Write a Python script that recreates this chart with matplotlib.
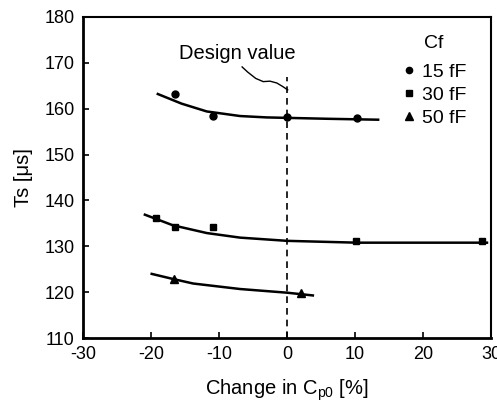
import matplotlib
matplotlib.use("Agg")
import matplotlib.pyplot as plt

plt.rcParams['font.family'] = ['Liberation Sans', 'DejaVu Sans']
plt.rcParams['mathtext.fontset'] = 'custom'
plt.rcParams['mathtext.rm'] = 'Liberation Sans'
plt.rcParams['axes.unicode_minus'] = False

# measured points
x15 = [-16.5, -10.9, 0.0, 10.3]
y15 = [163.2, 158.4, 158.2, 158.0]
x30 = [-19.3, -16.5, -10.9, 10.1, 28.7]
y30 = [136.2, 134.3, 134.3, 131.2, 131.2]
x50 = [-16.6, 2.1]
y50 = [122.9, 119.9]

# fitted curves
cx15 = [-19.0, -15.5, -11.8, -6.9, -3.0, 0.0, 6.0, 13.4]
cy15 = [163.2, 161.1, 159.4, 158.4, 158.1, 158.0, 157.8, 157.6]
cx30 = [-20.9, -16.8, -11.8, -6.9, 0.0, 10.3, 20.0, 29.4]
cy30 = [136.9, 134.6, 132.9, 131.9, 131.2, 130.8, 130.8, 130.8]
cx50 = [-19.9, -16.8, -13.8, -6.9, 0.0, 3.8]
cy50 = [124.0, 122.9, 121.9, 120.7, 119.9, 119.3]

# leader line for "Design value"
lx = [-6.6, -5.8, -4.6, -3.5, -2.5, -1.5, -0.6, 0.1]
ly = [169.1, 168.0, 166.6, 165.9, 166.0, 165.6, 164.8, 164.1]

xticks = [-30, -20, -10, 0, 10, 20, 30]
yticks = [110, 120, 130, 140, 150, 160, 170, 180]

fig = plt.figure(figsize=(4.97, 4.03), dpi=100)
ax = fig.add_axes([0.167, 0.161, 0.821, 0.797])

ax.plot(cx15, cy15, color='black', lw=1.8)
ax.plot(cx30, cy30, color='black', lw=1.8)
ax.plot(cx50, cy50, color='black', lw=1.8)
ax.plot(x15, y15, 'o', color='black', ms=5, label='15 fF')
ax.plot(x30, y30, 's', color='black', ms=5, label='30 fF')
ax.plot(x50, y50, '^', color='black', ms=6, label='50 fF')

ax.plot([0, 0], [110, 167], color='black', lw=1.2, ls=(0, (4, 3)))
ax.plot(lx, ly, color='black', lw=1.0)
ax.text(-7.3, 172.1, 'Design value', ha='center', va='center', fontsize=14.5)

ax.set_xlim(-30, 30)
ax.set_ylim(110, 180)
ax.set_xticks(xticks)
ax.set_yticks(yticks)
ax.tick_params(direction='in', length=4, width=1.2, labelsize=13, pad=6)
for s in ['left', 'bottom']:
    ax.spines[s].set_linewidth(2.0)
for s in ['top', 'right']:
    ax.spines[s].set_linewidth(1.5)

ax.set_xlabel(r'Change in C$_{\mathrm{p0}}$ [%]', fontsize=14.5, labelpad=10)
ax.set_ylabel('Ts [μs]', fontsize=14.5, labelpad=8)

ax.text(21.5, 174.3, 'Cf', ha='center', va='center', fontsize=14)
leg = ax.legend(loc='upper left', bbox_to_anchor=(0.787, 0.855),
                frameon=False, fontsize=14,
                handlelength=0.5, handletextpad=0.4, labelspacing=0.28,
                borderaxespad=0.0, borderpad=0.0, markerscale=0.9)

fig.savefig('out.png', dpi=100)
